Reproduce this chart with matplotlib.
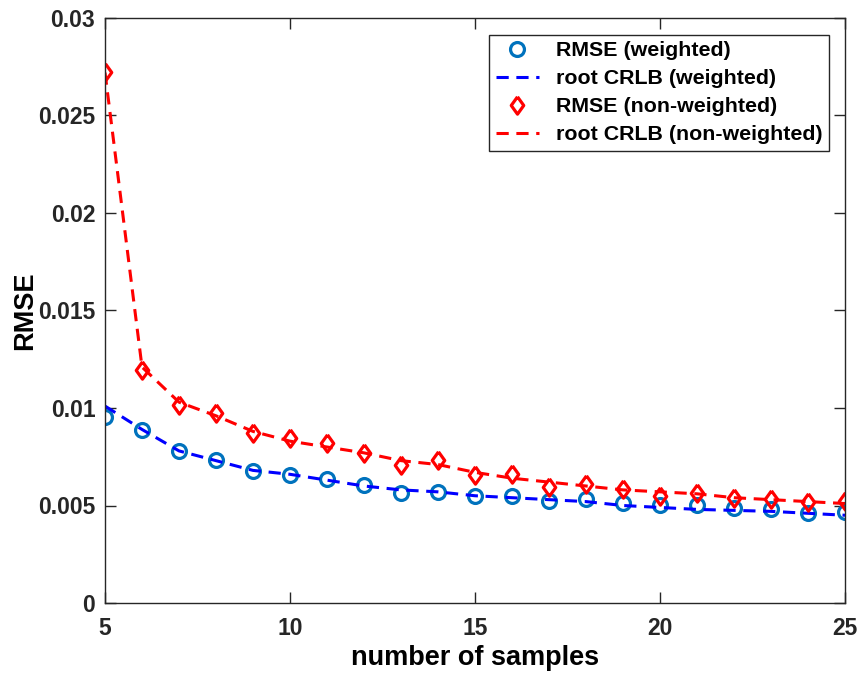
import numpy as np
import matplotlib.pyplot as plt

plt.rcParams['font.family'] = ['Liberation Sans', 'DejaVu Sans']
plt.rcParams['font.weight'] = 'bold'

# data
n_samples = np.arange(5, 26)

rmse_w = [0.00956, 0.00888, 0.00777, 0.00731, 0.00679, 0.00654, 0.00635, 0.00606,
          0.00563, 0.00571, 0.00549, 0.00549, 0.00525, 0.00532, 0.00515, 0.00503,
          0.00503, 0.00486, 0.00481, 0.00460, 0.00469]
crlb_w = [0.0101, 0.0089, 0.0078, 0.0073, 0.0068, 0.0066, 0.0063, 0.0060,
          0.0058, 0.0057, 0.0055, 0.0054, 0.0053, 0.0052, 0.0050, 0.0049,
          0.0048, 0.00475, 0.0047, 0.0046, 0.0045]
rmse_nw = [0.02724, 0.01196, 0.01016, 0.00974, 0.00871, 0.00845, 0.00823, 0.00768,
           0.00708, 0.00734, 0.00654, 0.00661, 0.00594, 0.00609, 0.00584, 0.00549,
           0.00563, 0.00541, 0.00532, 0.00520, 0.00525]
crlb_nw = [0.0272, 0.0121, 0.0103, 0.0096, 0.0088, 0.0083, 0.0080, 0.0077,
           0.0073, 0.0071, 0.0067, 0.0064, 0.0062, 0.0060, 0.0058, 0.0057,
           0.0056, 0.0054, 0.0053, 0.0052, 0.0051]

# matlab style diamond (a bit taller than wide)
diamond = [(0, 1), (0.72, 0), (0, -1), (-0.72, 0), (0, 1)]

fig = plt.figure(figsize=(8.62, 6.79), dpi=100)
ax = fig.add_axes([105 / 862, 1 - 603 / 679, 740 / 862, 585 / 679])

ax.plot(n_samples, rmse_w, 'o', color=(0, 0.447, 0.741), markerfacecolor='none',
        markersize=10, markeredgewidth=2.3, label='RMSE (weighted)')
ax.plot(n_samples, crlb_w, '--', color='blue', linewidth=2.2, dashes=(4, 2.5),
        label='root CRLB (weighted)')
ax.plot(n_samples, rmse_nw, linestyle='none', marker=diamond, color='red',
        markerfacecolor='none', markersize=12.5, markeredgewidth=2.3,
        label='RMSE (non-weighted)')
ax.plot(n_samples, crlb_nw, '--', color='red', linewidth=2.2, dashes=(4, 2.5),
        label='root CRLB (non-weighted)')

ax.set_xlim(5, 25)
ax.set_ylim(0, 0.03)
ax.set_xticks([5, 10, 15, 20, 25])
ax.set_yticks([0, 0.005, 0.01, 0.015, 0.02, 0.025, 0.03])
ax.set_yticklabels(['0', '0.005', '0.01', '0.015', '0.02', '0.025', '0.03'])
ax.tick_params(direction='in', length=8, width=1, top=True, right=True,
               labelsize=16.5, colors='#262626', pad=7)
ax.tick_params(axis='x', pad=10)
for s in ax.spines.values():
    s.set_color('#262626')
    s.set_linewidth(1)

ax.set_xlabel('number of samples', fontsize=19.5, fontweight='bold', labelpad=4)
ax.set_ylabel('RMSE', fontsize=19.5, fontweight='bold', labelpad=0)

leg = ax.legend(loc='upper right', bbox_to_anchor=(0.978, 0.971), fontsize=15.4,
                fancybox=False, edgecolor='#262626', framealpha=1,
                handlelength=2.0, handletextpad=0.8, borderpad=0.3,
                labelspacing=0.42, borderaxespad=0)
leg.get_frame().set_linewidth(1)

fig.savefig('out.png', dpi=100)
